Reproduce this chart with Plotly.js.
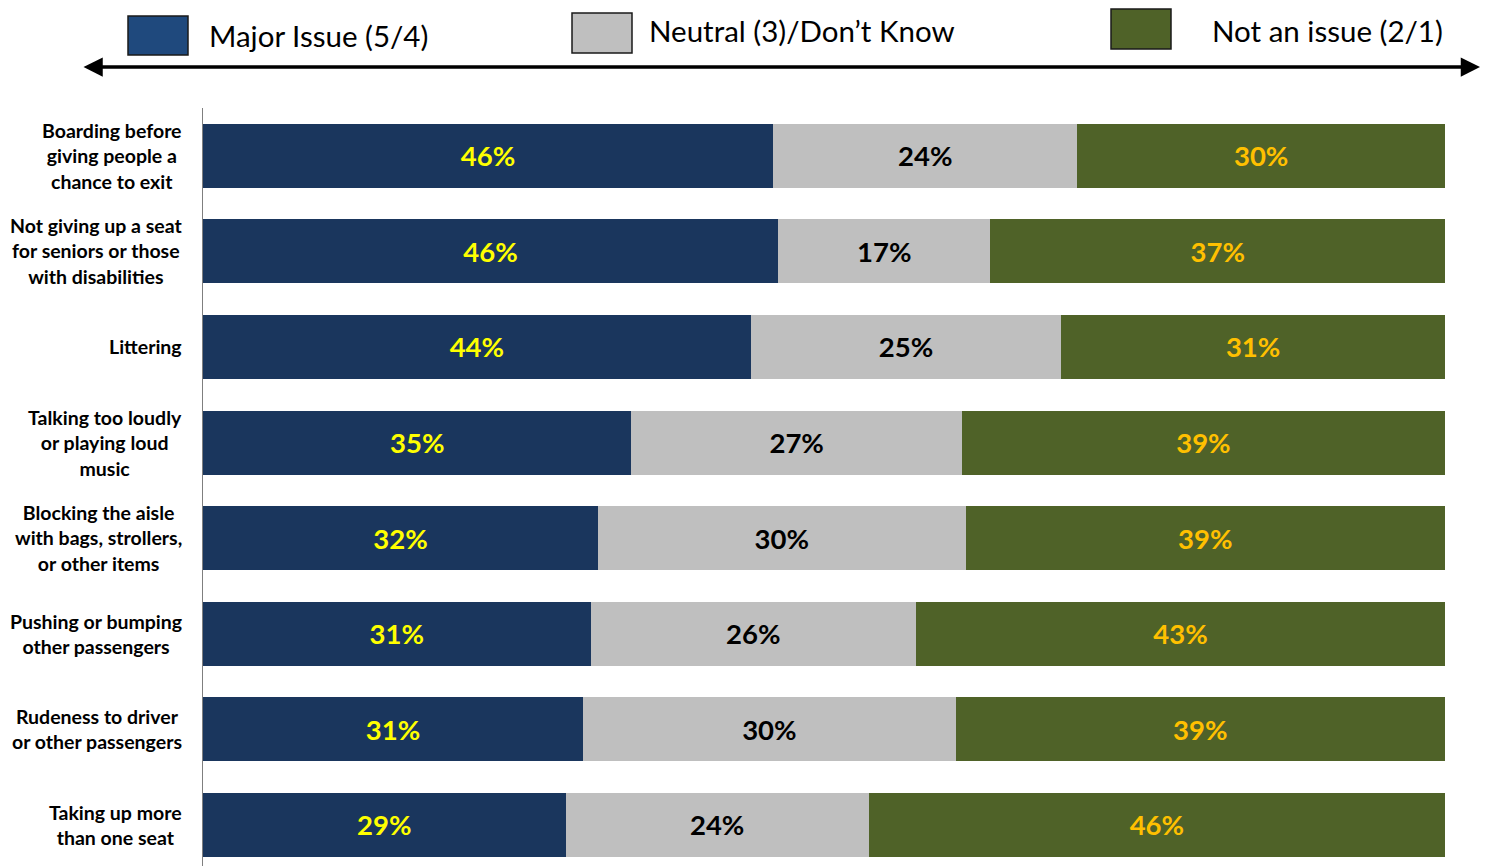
<!DOCTYPE html>
<html>
<head>
<meta charset="utf-8">
<script src="https://cdn.plot.ly/plotly-3.0.1.min.js"></script>
<style>html,body{margin:0;padding:0;background:#fff;}#chart{width:1489px;height:866px;}</style>
</head>
<body>
<div id="chart"></div>
<script>
var categories = [
  "Boarding before<br>giving people a<br>chance to exit",
  "Not giving up a seat<br>for seniors or those<br>with disabilities",
  "Littering",
  "Talking too loudly<br>or playing loud<br>music",
  "Blocking the aisle<br>with bags, strollers,<br>or other items",
  "Pushing or bumping<br>other passengers",
  "Rudeness to driver<br>or other passengers",
  "Taking up more<br>than one seat"
];
var majorIssue = [45.9, 46.3, 44.1, 34.5, 31.8, 31.2, 30.6, 29.2];
var neutral    = [24.5, 17.1, 25.0, 26.6, 29.6, 26.2, 30.0, 24.4];
var notIssue   = [29.6, 36.6, 30.9, 38.9, 38.6, 42.6, 39.4, 46.4];
var majorLabels   = ["46%","46%","44%","35%","32%","31%","31%","29%"];
var neutralLabels = ["24%","17%","25%","27%","30%","26%","30%","24%"];
var notLabels     = ["30%","37%","31%","39%","39%","43%","39%","46%"];
var seriesNames = ["Major Issue (5/4)", "Neutral (3)/Don\u2019t Know", "Not an issue (2/1)"];

var W = 1489, H = 866;
var mL = 203, mR = 44, mT = 108, mB = 0;
var pw = W - mL - mR, ph = H - mT - mB;
function px(x){ return (x - mL) / pw; }
function py(y){ return (H - mB - y) / ph; }

var FONT = "Lato, 'Open Sans', Arial, sans-serif";

function mk(vals, labels, name, color, tcolor){
  return {
    type: 'bar', orientation: 'h', x: vals, y: categories, name: name,
    marker: {color: color, line: {width: 0}},
    text: labels, textposition: 'inside', insidetextanchor: 'middle',
    textfont: {family: FONT, size: 27.5, color: tcolor, weight: 700},
    constraintext: 'none', hoverinfo: 'none', showlegend: false
  };
}
var data = [
  mk(majorIssue, majorLabels, seriesNames[0], '#1A365D', '#FFFF00'),
  mk(neutral, neutralLabels, seriesNames[1], '#BFBFBF', '#000000'),
  mk(notIssue, notLabels, seriesNames[2], '#4F6228', '#FFC000')
];

var annotations = categories.map(function(c){
  return {xref:'paper', yref:'y', x:0, y:c, xanchor:'right', yanchor:'middle',
    xshift:-19, text:c, align:'center', showarrow:false,
    font:{family:FONT, size:19.5, color:'#000', weight:700}};
});
var legendBoxes = [
  {x0:128, x1:188, y0:16, y1:55, color:'#1F497D', tx:207, ty:35},
  {x0:572, x1:632, y0:13, y1:53, color:'#BFBFBF', tx:647, ty:31},
  {x0:1111, x1:1171, y0:9, y1:49, color:'#4F6228', tx:1210, ty:31}
];
var shapes = [];
legendBoxes.forEach(function(b, i){
  shapes.push({type:'rect', xref:'paper', yref:'paper', x0:px(b.x0), x1:px(b.x1), y0:py(b.y1), y1:py(b.y0),
    fillcolor:b.color, line:{color:'#1a1a1a', width:1.5}});
  annotations.push({xref:'paper', yref:'paper', x:px(b.tx), y:py(b.ty), xanchor:'left', yanchor:'middle',
    text:seriesNames[i], showarrow:false, font:{family:FONT, size:29.5, color:'#000'}});
});
annotations.push({xref:'paper', yref:'paper', x:px(1480), y:py(67), ax:-(1480-82), ay:0,
  axref:'pixel', ayref:'pixel', showarrow:true, arrowhead:2, startarrowhead:2, arrowside:'end+start',
  arrowsize:1.1, startarrowsize:1.1, arrowwidth:3.5, arrowcolor:'#000', text:''});

var layout = {
  width: W, height: H, barmode: 'stack', bargap: 0.33,
  margin: {l:mL, r:mR, t:mT, b:mB, pad:0},
  paper_bgcolor:'#fff', plot_bgcolor:'#fff',
  xaxis: {range:[0,100], showgrid:false, zeroline:false, showticklabels:false, showline:false, fixedrange:true},
  yaxis: {type:'category', range:[7.43,-0.5], showgrid:false, zeroline:false, showticklabels:false,
    showline:true, linecolor:'#7f7f7f', linewidth:1, ticks:'', fixedrange:true},
  annotations: annotations, shapes: shapes, showlegend:false,
  font:{family:FONT}
};
Plotly.newPlot('chart', data, layout, {displayModeBar:false, staticPlot:true});
</script>
</body>
</html>
